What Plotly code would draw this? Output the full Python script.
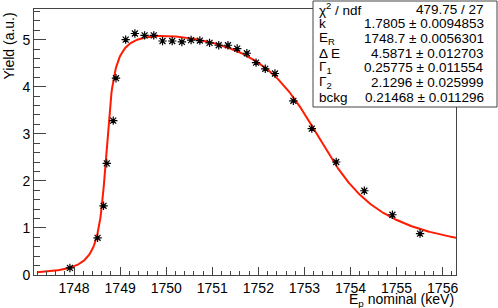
import numpy as np
import plotly.graph_objects as go

# ---- data ----
energy = [1747.91, 1748.51, 1748.64, 1748.71, 1748.85, 1748.91, 1749.12, 1749.32,
          1749.53, 1749.73, 1749.92, 1750.13, 1750.34, 1750.54, 1750.73, 1750.94,
          1751.14, 1751.34, 1751.54, 1751.75, 1751.95, 1752.15, 1752.36, 1752.76,
          1753.16, 1753.69, 1754.30, 1754.91, 1755.51]
yield_ = [0.15, 0.79, 1.47, 2.37, 3.28, 4.18, 5.00, 5.13,
          5.09, 5.09, 4.97, 4.97, 4.95, 4.99, 4.98, 4.93,
          4.88, 4.88, 4.81, 4.71, 4.51, 4.38, 4.28, 3.70,
          3.11, 2.40, 1.79, 1.28, 0.88]

# fit parameters (from stats box)
par_k, par_ER, par_dE, par_G1, par_G2, par_bckg = 1.7805, 1748.7, 4.5871, 0.25775, 2.1296, 0.21468
fit_range = [1747.2, 1756.3]

stat_labels = ["χ<sup>2</sup> / ndf", "k", "E<sub>R</sub>", "Δ E", "Γ<sub>1</sub>", "Γ<sub>2</sub>", "bckg"]
stat_values = ["479.75 / 27", "1.7805 ± 0.0094853", "1748.7 ± 0.0056301", "4.5871 ± 0.012703",
               "0.25775 ± 0.011554", "2.1296 ± 0.025999", "0.21468 ± 0.011296"]

x_ticks = [1748, 1749, 1750, 1751, 1752, 1753, 1754, 1755, 1756]
y_ticks = [0, 1, 2, 3, 4, 5]

# ---- fit model curve ----
ef = np.linspace(fit_range[0], fit_range[1], 600)
yf = par_k * (np.arctan(2 * (ef - par_ER) / par_G1)
              - np.arctan(2 * (ef - par_ER - par_dE) / par_G2)) + par_bckg

W, H = 498, 308
L, R, T, B = 34, 456, 9, 275  # plot frame in pixels
font = "Liberation Sans, Arial, Helvetica, sans-serif"

def px2paper_x(px):
    return (px - L) / (R - L)

def px2paper_y(py):
    return (B - py) / (B - T)

fig = go.Figure()
fig.add_trace(go.Scatter(x=ef, y=yf, mode="lines",
                         line=dict(color="#ff1a00", width=2), hoverinfo="skip"))
fig.add_trace(go.Scatter(x=energy, y=yield_, mode="markers",
                         marker=dict(symbol="asterisk-open", size=7, color="black",
                                     line=dict(color="black", width=1.2))))
fig.add_trace(go.Scatter(x=energy, y=yield_, mode="markers",
                         marker=dict(symbol="square", size=3, color="black")))

axis_common = dict(showline=True, linecolor="#444", linewidth=1, mirror=True,
                   ticks="inside", tickcolor="#444", showgrid=False, zeroline=False,
                   tickfont=dict(family=font, size=14, color="black"))

fig.update_xaxes(range=[1747.13, 1756.29], tickvals=x_ticks, ticklen=8,
                 minor=dict(ticks="inside", dtick=0.2, ticklen=4, tickcolor="#444"),
                 **axis_common)
fig.update_yaxes(range=[0, 5.65], tickvals=y_ticks, ticklen=12,
                 minor=dict(ticks="inside", dtick=0.2, ticklen=6, tickcolor="#444"),
                 **axis_common)

# stats box
fig.add_shape(type="rect", xref="paper", yref="paper",
              x0=px2paper_x(313), x1=px2paper_x(497), y0=px2paper_y(107), y1=px2paper_y(1),
              line=dict(color="#444", width=1), fillcolor="white", layer="above")
row_y = [9.5, 24, 38.5, 53.2, 68, 82.5, 97]
ann = []
for lab, val, ry in zip(stat_labels, stat_values, row_y):
    ann.append(dict(x=px2paper_x(317), y=px2paper_y(ry), xref="paper", yref="paper",
                    text=lab, showarrow=False, xanchor="left", yanchor="middle",
                    font=dict(family=font, size=13.5, color="black")))
    ann.append(dict(x=px2paper_x(486), y=px2paper_y(ry), xref="paper", yref="paper",
                    text=val, showarrow=False, xanchor="right", yanchor="middle",
                    font=dict(family=font, size=13.5, color="black")))

# axis titles (ROOT style, aligned to axis end)
ann.append(dict(x=px2paper_x(456), y=px2paper_y(300), xref="paper", yref="paper",
                text="E<sub>p</sub> nominal (keV)", showarrow=False,
                xanchor="right", yanchor="middle",
                font=dict(family=font, size=14, color="black")))
ann.append(dict(x=px2paper_x(8), y=px2paper_y(11), xref="paper", yref="paper",
                text="Yield (a.u.)", showarrow=False, textangle=-90,
                xanchor="center", yanchor="top",
                font=dict(family=font, size=14, color="black")))

fig.update_layout(width=W, height=H, showlegend=False,
                  margin=dict(l=L, r=W - R, t=T, b=H - B),
                  plot_bgcolor="white", paper_bgcolor="white",
                  annotations=ann)

fig.write_html("out.html", config={"displayModeBar": False},
               post_script="document.body.style.margin='0px';document.body.style.overflow='hidden';")
